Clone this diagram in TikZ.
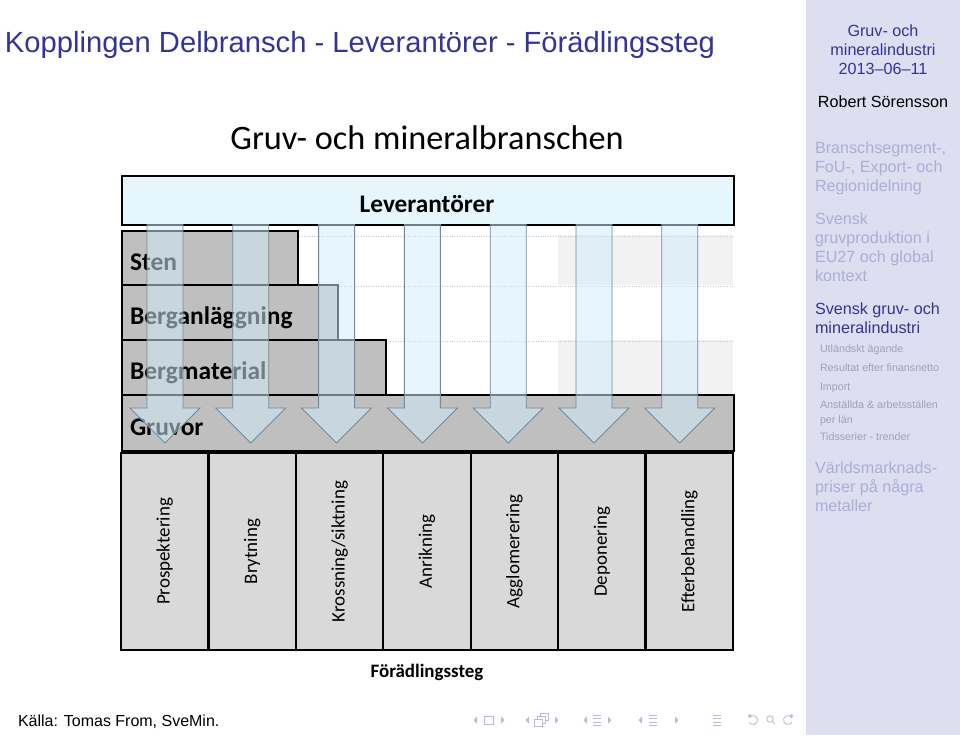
\documentclass[tikz,border=0pt]{standalone}
\usepackage{fontspec}
\setmainfont{Liberation Sans}
\newfontfamily\calibri{Carlito}
\usetikzlibrary{positioning}
\definecolor{TitleBlue}{RGB}{51,51,153}
\definecolor{sidebarBg}{RGB}{221,222,240}
\definecolor{fadedBlue}{RGB}{172,174,214}
\definecolor{fadedGrey}{RGB}{160,161,180}
\definecolor{levBlue}{RGB}{230,246,253}
\definecolor{stairGrey}{RGB}{191,191,191}
\definecolor{stepGrey}{RGB}{217,217,217}
\definecolor{rowGrey}{RGB}{242,242,242}
\definecolor{arrowFill}{RGB}{208,238,251}
\definecolor{arrowEdge}{RGB}{112,138,158}
\definecolor{navGrey}{RGB}{185,186,215}

\begin{document}
\begin{tikzpicture}[
  x=0.02cm, y=-0.02cm,
  txt/.style={inner sep=0pt, outer sep=0pt},
  sidehead/.style={txt, anchor=north, align=center, font=\fontsize{9.2}{10.8}\selectfont},
  sideitem/.style={txt, anchor=north west, align=left, font=\fontsize{9.2}{10.8}\selectfont},
  subitem/.style={txt, anchor=north west, align=left, font=\fontsize{6.1}{8.5}\selectfont, text=fadedGrey},
  levbox/.style={draw=black, line width=1.3pt, fill=levBlue, anchor=north west, inner sep=0pt},
  stairbox/.style={draw=black, line width=1.3pt, fill=stairGrey, anchor=north west, inner sep=0pt},
  stairlbl/.style={txt, anchor=base west, font=\calibri\bfseries\fontsize{14.5}{16}\selectfont},
  stepcol/.style={draw=black, line width=1.3pt, fill=stepGrey, rotate=90, inner sep=0pt,
                  minimum width=197*\pxu, minimum height=87.43*\pxu,
                  font=\calibri\fontsize{10.8}{12}\selectfont},
  flowarrow/.style={fill=arrowFill, fill opacity=0.53, draw=arrowEdge, line width=0.5pt},
  navsym/.style={navGrey, line width=0.5pt},
]
\def\pxu{0.02cm}   % one pixel of the slide
\def\colW{87.43}   % width of one step column
\def\arrX{165}     % centre of the first arrow
\def\arrSep{85.8}  % distance between arrows

\useasboundingbox (0,0) rectangle (960,735);
\fill[white] (0,0) rectangle (960,735);

% Sidebar
\fill[sidebarBg] (806,0) rectangle (960,735);
\node[sidehead, text=TitleBlue] (sbtitle) at (883,25) {Gruv- och\\mineralindustri\\2013--06--11};
\node[txt, anchor=base, font=\fontsize{9.2}{10.8}\selectfont] (sbauthor) at (883,107) {Robert Sörensson};
\node[sideitem, text=fadedBlue] (sbsec1) at (815,142) {Branschsegment-,\\FoU-, Export- och\\Regionidelning};
\node[sideitem, text=fadedBlue] (sbsec2) at (815,213) {Svensk\\gruvproduktion i\\EU27 och global\\kontext};
\node[sideitem, text=TitleBlue] (sbsec3) at (815,303) {Svensk gruv- och\\mineralindustri};
\node[subitem] (sbsub) at (820,345) {Utländskt ägande\\[2.2pt]Resultat efter finansnetto\\[2pt]Import\\[2.2pt]%
  Anställda \& arbetsställen\\per län\\[1.2pt]Tidsserier - trender};
\node[sideitem, text=fadedBlue] (sbsec4) at (815,462) {Världsmarknads-\\priser på några\\metaller};

% Frame title and source
\node[txt, anchor=west, text=TitleBlue, font=\fontsize{16.6}{18}\selectfont] (title) at (5,45)
  {Kopplingen Delbransch - Leverantörer - Förädlingssteg};
\node[txt, anchor=west, font=\fontsize{9.1}{10.8}\selectfont] (source) at (18,722) {Källa: Tomas From, SveMin.};

% Chart heading
\node[txt, font=\calibri\fontsize{19.5}{22}\selectfont] (heading) at (427,138) {Gruv- och mineralbranschen};

% Faint grid behind the sub-branches
\fill[rowGrey] (558,235) rectangle (733,285);
\fill[rowGrey] (558,340) rectangle (733,394);
\foreach \yy in {236,286,341}
  \draw[black!22, densely dotted, line width=0.4pt] (297,\yy) -- (733,\yy);

% Suppliers
\node[levbox, minimum width=612*\pxu, minimum height=49*\pxu] (lev) at (121,175) {};
\node[txt, font=\calibri\bfseries\fontsize{14.4}{16}\selectfont] (levlbl) at (427,204) {Leverantörer};

% Sub-branches (stairs)
\node[stairbox, minimum width=176*\pxu, minimum height=54*\pxu] (sten) at (121,230) {};
\node[stairbox, minimum width=216*\pxu, minimum height=55*\pxu] (berganl) at (121,284) {};
\node[stairbox, minimum width=264*\pxu, minimum height=55*\pxu] (bergmat) at (121,339) {};
\node[stairbox, minimum width=612*\pxu, minimum height=56*\pxu] (gruvor) at (121,394) {};
\node[stairlbl] (stenlbl) at ([shift={(9,12)}]sten.west) {Sten};
\node[stairlbl] (berganllbl) at ([shift={(9,12)}]berganl.west) {Berganläggning};
\node[stairlbl] (bergmatlbl) at ([shift={(9,12)}]bergmat.west) {Bergmaterial};
\node[stairlbl] (gruvorlbl) at ([shift={(9,12)}]gruvor.west) {Gruvor};

% Processing steps
\foreach \name [count=\i] in {Prospektering, Brytning, Krossning/siktning, Anrikning,
                              Agglomerering, Deponering, Efterbehandling}
  \node[stepcol] (col\i) at ({121+\colW*(\i-0.5)},551.5) {\name};
\node[txt, font=\calibri\bfseries\fontsize{10.8}{12}\selectfont] (steps) at (427,672) {Förädlingssteg};

% Arrows from the suppliers down to the mines
\foreach \i in {0,...,6} {
  \pgfmathsetmacro{\cx}{\arrX+\arrSep*\i}
  \draw[flowarrow] (\cx-18,224) -- (\cx-18,408) -- (\cx-35,408) -- (\cx,443)
    -- (\cx+35,408) -- (\cx+18,408) -- (\cx+18,224);
}

% Navigation symbols
\foreach \x in {475,527,585,640}
  \fill[navGrey] (\x+2,716.5) -- (\x-1.5,720) -- (\x+2,723.5) -- cycle;
\foreach \x in {503,557,610,677}
  \fill[navGrey] (\x-2,716.5) -- (\x+1.5,720) -- (\x-2,723.5) -- cycle;
\draw[navsym] (484,716) rectangle (493,724);
\draw[navsym, fill=white] (540,713) rectangle (548,720);
\draw[navsym, fill=white] (537,716) rectangle (545,723);
\draw[navsym, fill=white] (534,719) rectangle (542,726);
\foreach \xx in {597,653,717}
  \foreach \yy in {715,718.5,722,725.5}
    \draw[navsym] (\xx-4,\yy) -- (\xx+4,\yy);
\draw[navsym] (753,720) ++(-150:4.5) arc[start angle=-150, end angle=150, radius=4.5];
\fill[navGrey] (748,717) -- (752,716.5) -- (749,713.5) -- cycle;
\draw[navsym] (770,719) circle[radius=3.2] (772.5,721.5) -- (775,724);
\draw[navsym] (788,720) ++(-30:4.5) arc[start angle=-30, end angle=-330, radius=4.5];
\fill[navGrey] (793,717) -- (789,716.5) -- (792,713.5) -- cycle;
\end{tikzpicture}
\end{document}
